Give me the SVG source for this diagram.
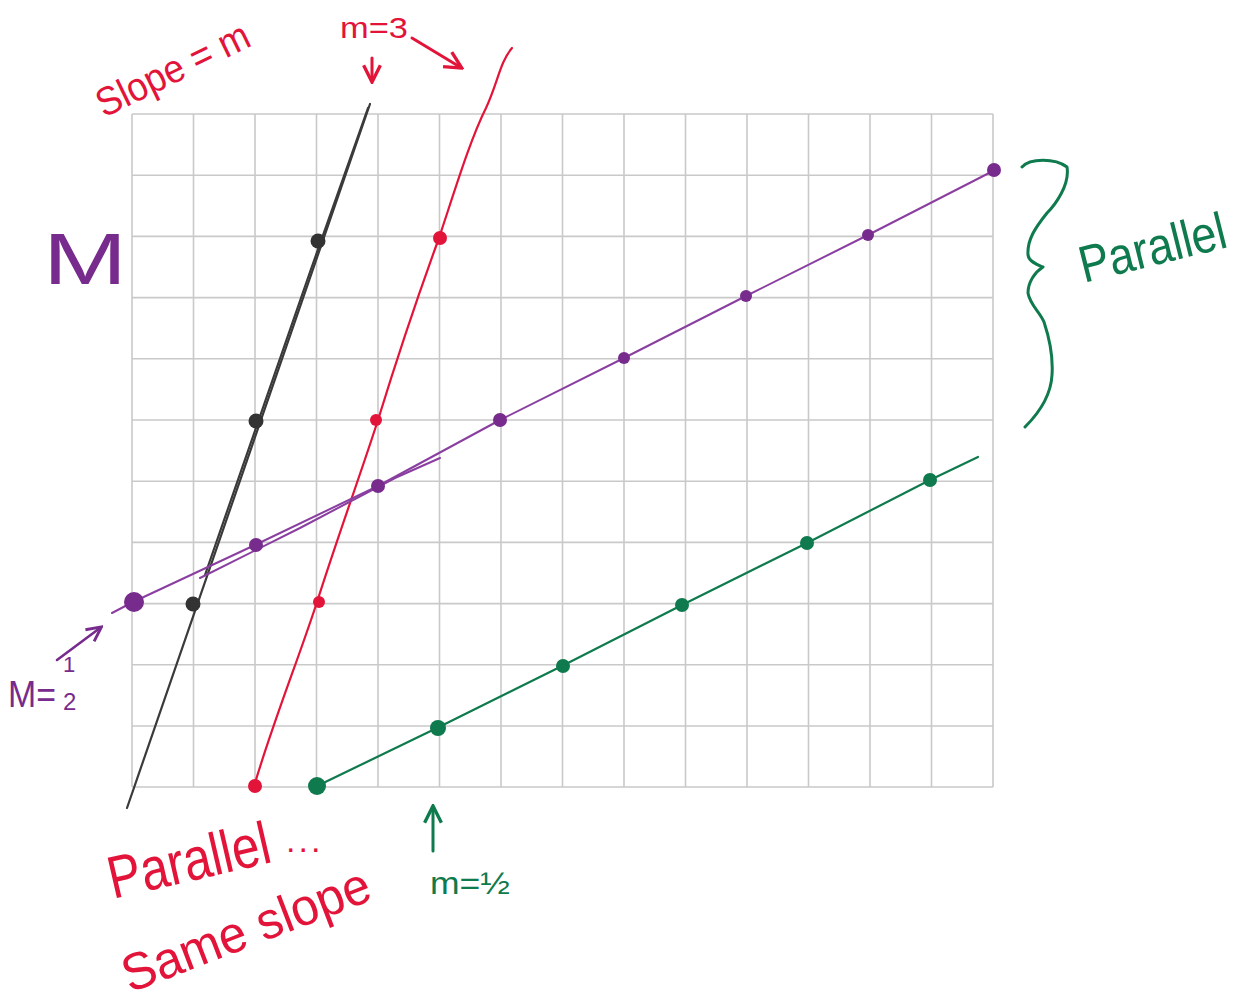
<svg xmlns="http://www.w3.org/2000/svg" width="1257" height="1002" viewBox="0 0 1257 1002">
<defs>
<style>
.grid line{stroke:#c9c9c9;stroke-width:1.6}
.hand{font-family:"Liberation Sans","DejaVu Sans",sans-serif}
.red{fill:#e3143a}
.pur{fill:#772b8c}
.grn{fill:#0e7a4d}
.ln{fill:none;stroke-linecap:round;stroke-linejoin:round}
</style>
<marker id="ahR" viewBox="0 0 10 10" refX="8" refY="5" markerWidth="7" markerHeight="7" orient="auto"><path d="M1,1 L9,5 L1,9" fill="none" stroke="#e3143a" stroke-width="1.6"/></marker>
<marker id="ahP" viewBox="0 0 10 10" refX="8" refY="5" markerWidth="7" markerHeight="7" orient="auto"><path d="M1,1 L9,5 L1,9" fill="none" stroke="#772b8c" stroke-width="1.6"/></marker>
<marker id="ahG" viewBox="0 0 10 10" refX="8" refY="5" markerWidth="7" markerHeight="7" orient="auto"><path d="M1,1 L9,5 L1,9" fill="none" stroke="#0e7a4d" stroke-width="1.6"/></marker>
</defs>
<rect width="1257" height="1002" fill="#fff"/>
<g id="grid" class="grid">
<line x1="132" y1="114" x2="132" y2="787"/><line x1="193.5" y1="114" x2="193.5" y2="787"/><line x1="255" y1="114" x2="255" y2="787"/><line x1="316.5" y1="114" x2="316.5" y2="787"/><line x1="378" y1="114" x2="378" y2="787"/><line x1="439.5" y1="114" x2="439.5" y2="787"/><line x1="501" y1="114" x2="501" y2="787"/><line x1="562.5" y1="114" x2="562.5" y2="787"/><line x1="624" y1="114" x2="624" y2="787"/><line x1="685.5" y1="114" x2="685.5" y2="787"/><line x1="747" y1="114" x2="747" y2="787"/><line x1="808.5" y1="114" x2="808.5" y2="787"/><line x1="870" y1="114" x2="870" y2="787"/><line x1="931.5" y1="114" x2="931.5" y2="787"/><line x1="993" y1="114" x2="993" y2="787"/>
<line x1="132" y1="114" x2="993" y2="114"/><line x1="132" y1="175.2" x2="993" y2="175.2"/><line x1="132" y1="236.4" x2="993" y2="236.4"/><line x1="132" y1="297.6" x2="993" y2="297.6"/><line x1="132" y1="358.8" x2="993" y2="358.8"/><line x1="132" y1="420" x2="993" y2="420"/><line x1="132" y1="481.2" x2="993" y2="481.2"/><line x1="132" y1="542.4" x2="993" y2="542.4"/><line x1="132" y1="603.6" x2="993" y2="603.6"/><line x1="132" y1="664.8" x2="993" y2="664.8"/><line x1="132" y1="726" x2="993" y2="726"/><line x1="132" y1="787" x2="993" y2="787"/>
</g>
<g id="connectors">
<path class="ln" d="M127,808 L370,104" stroke="#3a3a3a" stroke-width="2.2"/>
<path class="ln" d="M205,575 L310,272 L368,108" stroke="#3a3a3a" stroke-width="2.2"/>
<path class="ln" d="M253,790 C270,730 300,655 317,602 C340,530 362,470 378,420 C398,355 420,290 439,238 C455,190 470,140 486,108 C498,82 500,62 512,48" stroke="#e3143a" stroke-width="2.2"/>
<path class="ln" d="M112,613 L133,602 L255,545 L378,486 L500,420 L624,358 L746,296 L868,235 L993,171" stroke="#8a3fa0" stroke-width="2"/>
<path class="ln" d="M200,578 L300,528 L395,478 L440,458" stroke="#8a3fa0" stroke-width="2"/>
<path class="ln" d="M315,787 L439,727 L562,666 L684,604 L807,543 L930,480 L978,457" stroke="#0e7a4d" stroke-width="2.2"/>
<path class="ln" d="M412,38 L460,67" stroke="#e3143a" stroke-width="3" marker-end="url(#ahR)"/>
<path class="ln" d="M372,58 L372,80" stroke="#e3143a" stroke-width="3" marker-end="url(#ahR)"/>
<path class="ln" d="M57,660 L100,628" stroke="#772b8c" stroke-width="2.6" marker-end="url(#ahP)"/>
<path class="ln" d="M433,851 L433,808" stroke="#0e7a4d" stroke-width="3" marker-end="url(#ahG)"/>
<path id="brace" class="ln" d="M1022,167 C1030,158 1055,158 1067,167 C1070,185 1055,205 1047,213 C1035,228 1027,240 1028,255 C1029,262 1038,265 1043,267 C1035,272 1028,282 1028,293 C1030,305 1040,312 1044,322 C1050,340 1053,360 1052,375 C1051,395 1040,412 1025,427" stroke="#0e7a4d" stroke-width="3"/>
</g>
<g id="points-black" fill="#333">
<circle cx="193" cy="604" r="7.5"/><circle cx="256" cy="421" r="7.5"/><circle cx="318" cy="241" r="7.5"/>
</g>
<g id="points-red" fill="#e3143a">
<circle cx="255" cy="786" r="7"/><circle cx="319" cy="602" r="6"/><circle cx="376" cy="420" r="6"/><circle cx="440" cy="238" r="7"/>
</g>
<g id="points-purple" fill="#772b8c">
<circle cx="134" cy="602" r="10"/><circle cx="256" cy="545" r="7"/><circle cx="378" cy="486" r="7"/><circle cx="500" cy="420" r="7"/><circle cx="624" cy="358" r="6"/><circle cx="746" cy="296" r="6"/><circle cx="868" cy="235" r="6"/><circle cx="994" cy="170" r="7"/>
</g>
<g id="points-green" fill="#0e7a4d">
<circle cx="317" cy="786" r="9"/><circle cx="438" cy="728" r="8"/><circle cx="563" cy="666" r="7"/><circle cx="682" cy="605" r="7"/><circle cx="807" cy="543" r="7"/><circle cx="930" cy="480" r="7"/>
</g>
<g id="label-slope" class="hand red">
<text transform="translate(104,118) rotate(-26)" font-size="40" textLength="166" lengthAdjust="spacingAndGlyphs">Slope = m</text>
</g>
<g id="label-m3" class="hand red">
<text x="340" y="38" font-size="30" textLength="68" lengthAdjust="spacingAndGlyphs">m=3</text>
</g>
<g id="label-M" class="hand pur">
<text x="43" y="284" font-size="72" textLength="84" lengthAdjust="spacingAndGlyphs">M</text>
</g>
<g id="label-m-half-purple" class="hand pur">
<text x="8" y="707" font-size="36" textLength="48" lengthAdjust="spacingAndGlyphs">M=</text>
<text x="63" y="672" font-size="22">1</text>
<text x="63" y="710" font-size="24">2</text>
</g>
<g id="label-parallel-red" class="hand red">
<text transform="translate(113,899) rotate(-13)" font-size="60" textLength="165" lengthAdjust="spacingAndGlyphs">Parallel</text>
<text x="286" y="852" font-size="34" letter-spacing="3">...</text>
</g>
<g id="label-same-slope" class="hand red">
<text transform="translate(130,993) rotate(-21)" font-size="52" textLength="262" lengthAdjust="spacingAndGlyphs">Same slope</text>
</g>
<g id="label-m-half-green" class="hand grn">
<text x="430" y="894" font-size="32" textLength="80" lengthAdjust="spacingAndGlyphs">m=½</text>
</g>
<g id="label-parallel-green" class="hand grn">
<text transform="translate(1084,283) rotate(-14)" font-size="52" textLength="150" lengthAdjust="spacingAndGlyphs">Parallel</text>
</g>
</svg>
